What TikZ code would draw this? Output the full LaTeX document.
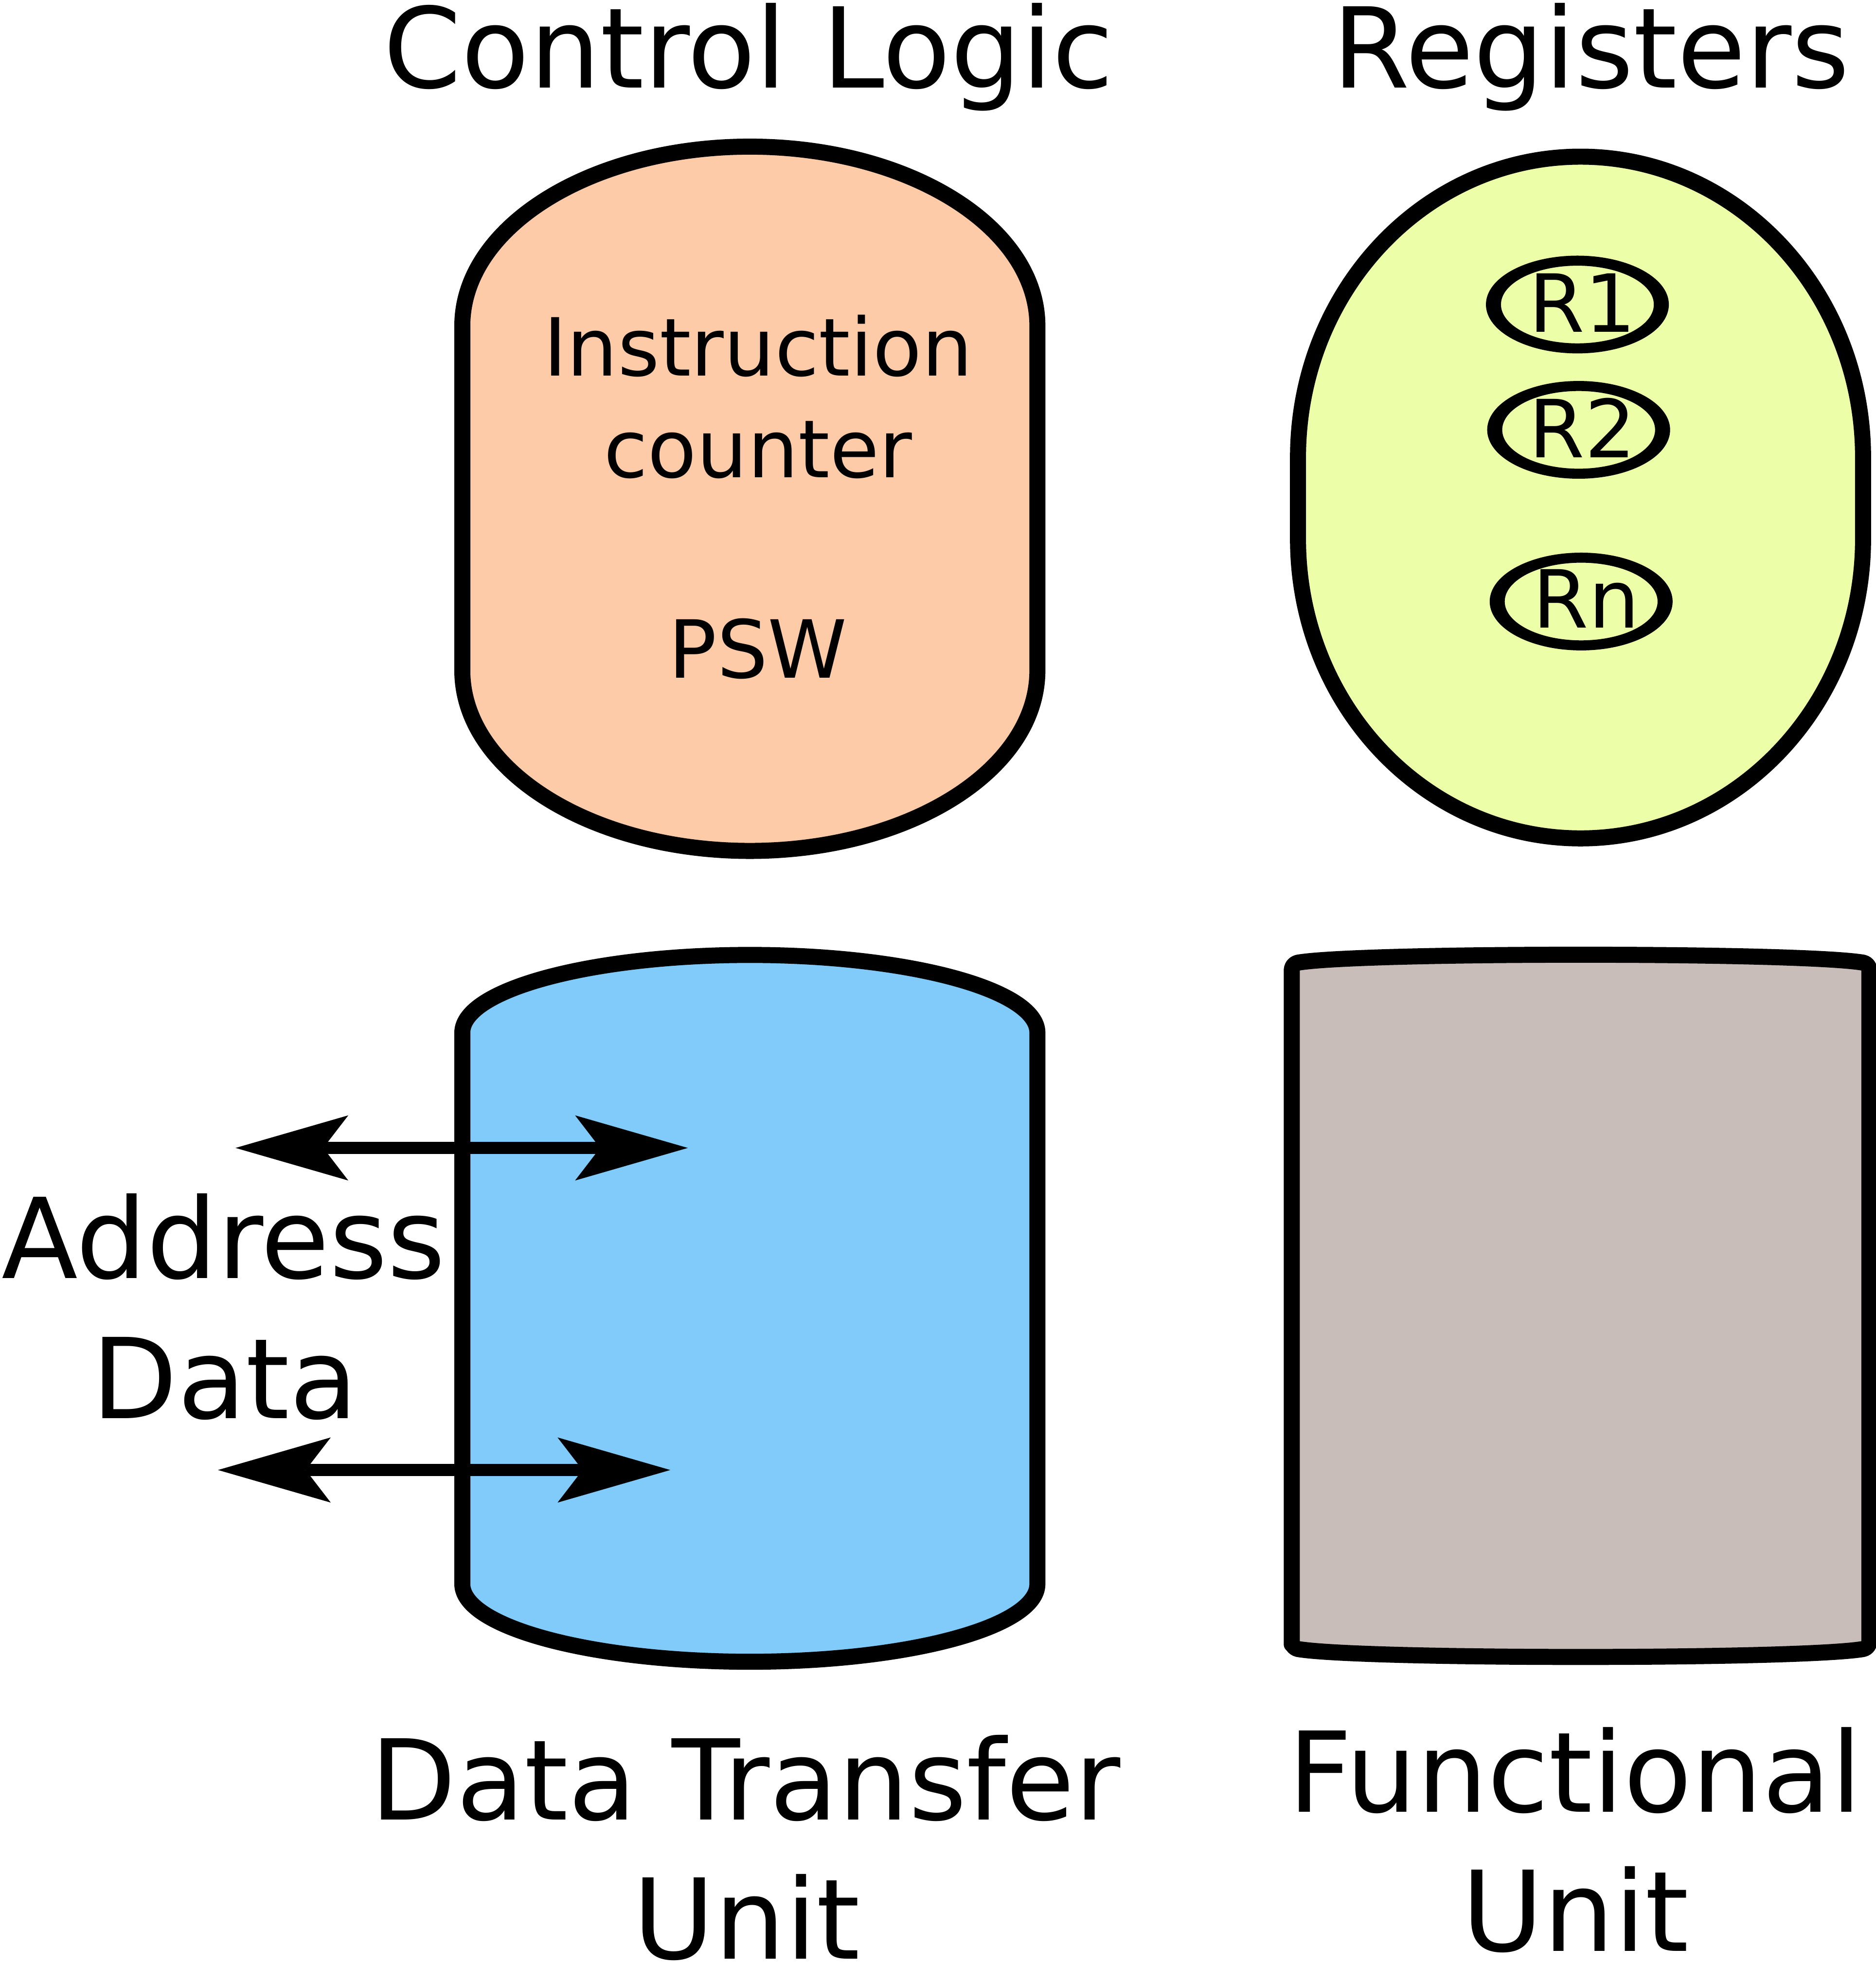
\documentclass[tikz,border=0pt]{standalone}
\usepackage{fontspec}
\setmainfont{DejaVu Sans}
\usetikzlibrary{arrows.meta}
\definecolor{peach}{HTML}{FDCBA8}
\definecolor{lime}{HTML}{EDFEA9}
\definecolor{sky}{HTML}{80CBFA}
\definecolor{taupe}{HTML}{C8BDB8}
\tikzset{
  unitshape/.style={draw=black, line width=12.8pt, line join=round},
  bigtxt/.style={inner sep=0pt, anchor=base, font=\fontsize{89}{111}\selectfont},
  smalltxt/.style={inner sep=0pt, anchor=base, font=\fontsize{64}{80}\selectfont},
  bus/.style={line width=10pt, {Stealth[length=90pt,width=52pt,inset=20pt,line width=0pt]}-{Stealth[length=90pt,width=52pt,inset=20pt,line width=0pt]}}
}
\begin{document}
\begin{tikzpicture}[x=1pt,y=-1pt]
\useasboundingbox (0,0) rectangle (1497,1568);
% Control Logic
\draw[unitshape, fill=peach] (369,260) arc[start angle=180,end angle=360,x radius=229.5,y radius=143]
  -- (828,535) arc[start angle=0,end angle=180,x radius=229.5,y radius=144] -- cycle;
% Registers
\draw[unitshape, fill=lime] (1036,365) arc[start angle=180,end angle=360,x radius=225.5,y radius=240]
  -- (1487,430) arc[start angle=0,end angle=180,x radius=225.5,y radius=239] -- cycle;
% register rings
\fill[black, even odd rule] (1259,243) ellipse[x radius=73, y radius=39] (1259,243) ellipse[x radius=61, y radius=31];
\fill[black, even odd rule] (1260,343) ellipse[x radius=73, y radius=39] (1260,343) ellipse[x radius=61, y radius=31];
\fill[black, even odd rule] (1262,480) ellipse[x radius=73, y radius=39] (1262,480) ellipse[x radius=61, y radius=31];
% Data Transfer Unit
\draw[unitshape, fill=sky] (369,824) arc[start angle=180,end angle=360,x radius=229.5,y radius=62]
  -- (828,1264) arc[start angle=0,end angle=180,x radius=229.5,y radius=62] -- cycle;
% Functional Unit
\draw[unitshape, fill=taupe, rounded corners=5pt] (1031,1315) -- (1031,769)
  .. controls (1085,759.7) and (1438,759.7) .. (1492,769) -- (1492,1315)
  .. controls (1438,1324.3) and (1085,1324.3) .. (1031,1315) -- cycle;
% texts
\node[bigtxt] (tcl) at (597.5,70) {Control Logic};
\node[bigtxt] (treg) at (1270,70) {Registers};
\node[smalltxt] (ti1) at (605,300) {Instruction};
\node[smalltxt] (ti2) at (605,381) {counter};
\node[smalltxt] (tpsw) at (605,541) {PSW};
\node[smalltxt] (tr1) at (1263,265) {R1};
\node[smalltxt] (tr2) at (1263,365) {R2};
\node[smalltxt] (trn) at (1266,501) {Rn};
\node[bigtxt] (taddr) at (178.5,1020) {Address};
\node[bigtxt] (tdata) at (179.5,1132) {Data};
\node[bigtxt] (tdtu1) at (595,1452) {Data Transfer};
\node[bigtxt] (tdtu2) at (596,1563) {Unit};
\node[bigtxt] (tfu1) at (1257,1446) {Functional};
\node[bigtxt] (tfu2) at (1257.5,1557) {Unit};
% buses
\coordinate (a1) at (188,916);
\coordinate (a2) at (549,916);
\coordinate (d1) at (174,1173);
\coordinate (d2) at (535,1173);
\draw[bus] (a1) -- (a2);
\draw[bus] (d1) -- (d2);
\end{tikzpicture}
\end{document}
